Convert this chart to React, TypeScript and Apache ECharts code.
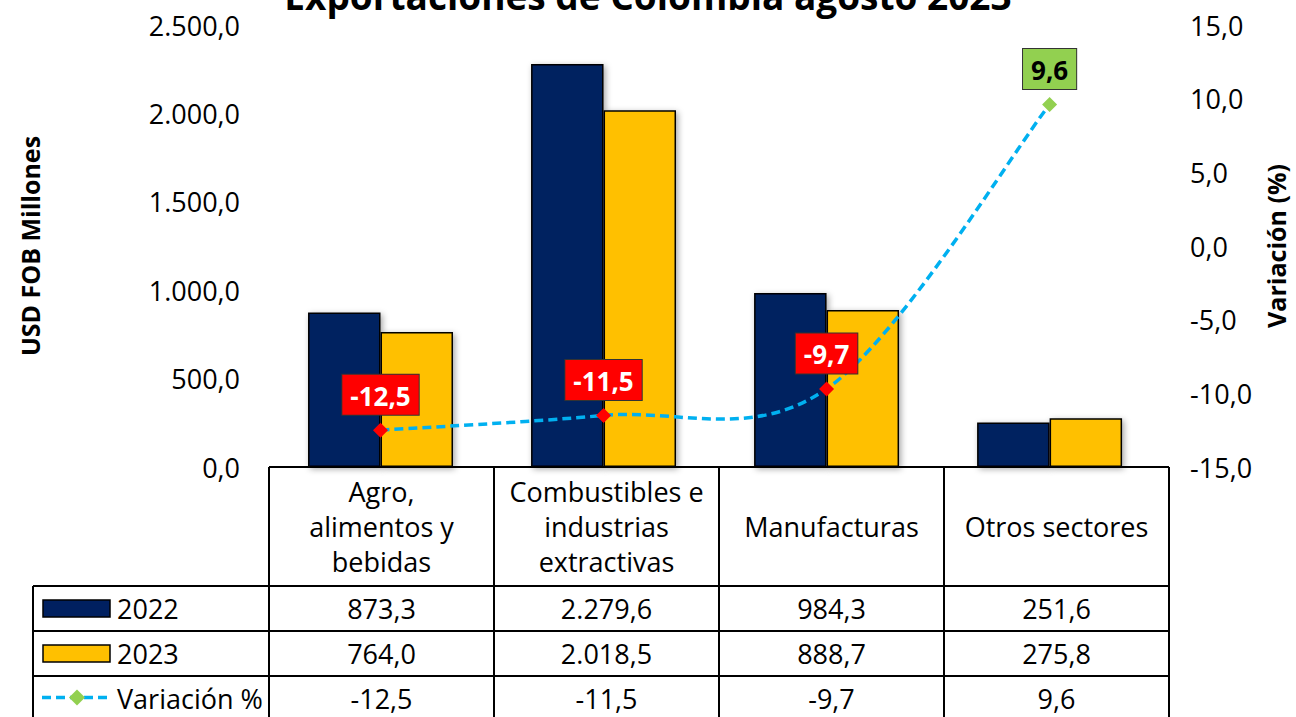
import React, { useEffect, useRef } from "react";
import * as echarts from "echarts";

const categories = [
  "Agro,\nalimentos y\nbebidas",
  "Combustibles e\nindustrias\nextractivas",
  "Manufacturas",
  "Otros sectores",
];
const values2022 = [873.3, 2279.6, 984.3, 251.6];
const values2023 = [764.0, 2018.5, 888.7, 275.8];
const variation = [-12.5, -11.5, -9.7, 9.6];
const seriesNames = ["2022", "2023", "Variación %"];
const titleText = "Exportaciones de Colombia agosto 2023";
const leftAxisName = "USD FOB Millones";
const rightAxisName = "Variación (%)";
const leftAxis = { min: 0, max: 2500, interval: 500 };
const rightAxis = { min: -15, max: 15, interval: 5 };

const NAVY = "#002060";
const YELLOW = "#FFC000";
const LINE = "#00B0F0";
const RED = "#FF0000";
const GREEN = "#92D050";
const FONT = "Open Sans";

function fmt(v: number): string {
  const neg = v < 0;
  const s = Math.abs(v).toFixed(1);
  const [ip, dp] = s.split(".");
  const withSep = ip.replace(/\B(?=(\d{3})+(?!\d))/g, ".");
  return (neg ? "-" : "") + withSep + "," + dp;
}

export default function App() {
  const ref = useRef<HTMLDivElement>(null);
  useEffect(() => {
    if (!ref.current) return;
    const chart = echarts.init(ref.current, undefined, { renderer: "svg" });

    const gridLeft = 269;
    const gridRight = 1169;
    const gridTop = 25;
    const gridBottom = 467;
    const W = 1296;
    const H = 717;
    const catW = (gridRight - gridLeft) / categories.length;
    const tableLeft = 33;
    const rowY = [gridBottom, 586, 631, 676, 721];
    const lw = 2;
    const TFS = 27;

    const g: any[] = [];
    g.push({ type: "line", shape: { x1: gridLeft, y1: rowY[0], x2: gridRight, y2: rowY[0] }, style: { stroke: "#000", lineWidth: lw } });
    for (let r = 1; r < rowY.length; r++) {
      g.push({ type: "line", shape: { x1: tableLeft, y1: rowY[r], x2: gridRight, y2: rowY[r] }, style: { stroke: "#000", lineWidth: lw } });
    }
    g.push({ type: "line", shape: { x1: tableLeft, y1: rowY[1], x2: tableLeft, y2: H }, style: { stroke: "#000", lineWidth: lw } });
    for (let c = 0; c <= categories.length; c++) {
      const x = gridLeft + c * catW;
      g.push({ type: "line", shape: { x1: x, y1: rowY[0], x2: x, y2: H }, style: { stroke: "#000", lineWidth: lw } });
    }
    categories.forEach((cat, i) => {
      g.push({
        type: "text",
        x: gridLeft + (i + 0.5) * catW,
        y: (rowY[0] + rowY[1]) / 2,
        style: { text: cat, fontSize: TFS, fontFamily: FONT, fill: "#000", align: "center", verticalAlign: "middle", lineHeight: 35 },
      });
    });
    const rows = [values2022, values2023, variation];
    rows.forEach((arr, r) => {
      const yc = (rowY[r + 1] + rowY[r + 2]) / 2;
      arr.forEach((v, i) => {
        g.push({
          type: "text",
          x: gridLeft + (i + 0.5) * catW,
          y: yc,
          style: { text: fmt(v), fontSize: TFS, fontFamily: FONT, fill: "#000", align: "center", verticalAlign: "middle" },
        });
      });
      g.push({
        type: "text",
        x: 117,
        y: yc,
        style: { text: seriesNames[r], fontSize: TFS, fontFamily: FONT, fill: "#000", align: "left", verticalAlign: "middle" },
      });
    });
    const ly0 = (rowY[1] + rowY[2]) / 2;
    const ly1 = (rowY[2] + rowY[3]) / 2;
    const ly2 = (rowY[3] + rowY[4]) / 2 - 1;
    g.push({ type: "rect", shape: { x: 43, y: ly0 - 8.5, width: 67, height: 17 }, style: { fill: NAVY, stroke: "#000", lineWidth: 1.5 } });
    g.push({ type: "rect", shape: { x: 43, y: ly1 - 8.5, width: 67, height: 17 }, style: { fill: YELLOW, stroke: "#000", lineWidth: 1.5 } });
    g.push({ type: "line", shape: { x1: 42, y1: ly2, x2: 112, y2: ly2 }, style: { stroke: LINE, lineWidth: 3.5, lineDash: [9, 5] } });
    g.push({ type: "polygon", shape: { points: [[77, ly2 - 8], [85, ly2], [77, ly2 + 8], [69, ly2]] }, style: { fill: GREEN } });

    const barStyle = (color: string) => ({
      color,
      borderColor: "#000",
      borderWidth: 1.5,
      shadowColor: "rgba(0,0,0,0.35)",
      shadowBlur: 6,
      shadowOffsetX: 2,
      shadowOffsetY: 2,
    });

    const axisLabelStyle = { fontSize: 27, fontFamily: FONT, color: "#000", margin: 29, formatter: (v: number) => fmt(v) };
    const axisNameStyle = { fontSize: 25, fontWeight: "bold", fontFamily: FONT, color: "#000", verticalAlign: "middle" };

    chart.setOption({
      animation: false,
      title: {
        text: titleText,
        left: "center",
        top: -28,
        textStyle: { fontSize: 37, fontWeight: "bold", fontFamily: FONT, color: "#000" },
      },
      grid: { left: gridLeft, right: W - gridRight, top: gridTop, bottom: H - gridBottom, containLabel: false },
      xAxis: {
        type: "category",
        data: categories,
        axisLine: { show: false },
        axisTick: { show: false },
        axisLabel: { show: false },
      },
      yAxis: [
        {
          type: "value",
          min: leftAxis.min,
          max: leftAxis.max,
          interval: leftAxis.interval,
          name: leftAxisName,
          nameLocation: "middle",
          nameGap: 239,
          nameRotate: 90,
          nameTextStyle: axisNameStyle,
          splitLine: { show: false },
          axisLine: { show: false },
          axisTick: { show: false },
          axisLabel: axisLabelStyle,
        },
        {
          type: "value",
          min: rightAxis.min,
          max: rightAxis.max,
          interval: rightAxis.interval,
          position: "right",
          name: rightAxisName,
          nameLocation: "middle",
          nameGap: 114,
          nameRotate: 90,
          nameTextStyle: axisNameStyle,
          splitLine: { show: false },
          axisLine: { show: false },
          axisTick: { show: false },
          axisLabel: axisLabelStyle,
        },
      ],
      series: [
        {
          name: seriesNames[0],
          type: "bar",
          data: values2022,
          barGap: "0%",
          barCategoryGap: "35%",
          itemStyle: barStyle(NAVY),
        },
        {
          name: seriesNames[1],
          type: "bar",
          data: values2023,
          barGap: "0%",
          barCategoryGap: "35%",
          itemStyle: barStyle(YELLOW),
        },
        {
          name: seriesNames[2] + " curve",
          type: "custom",
          yAxisIndex: 1,
          z: 4,
          clip: false,
          data: variation.map((v, i) => [i, v]),
          renderItem: (params: any, api: any) => {
            if (params.dataIndex !== 0) return { type: "group", children: [] };
            const pts = variation.map((v, j) => api.coord([j, v]));
            const n = pts.length;
            let d = `M ${pts[0][0]} ${pts[0][1]}`;
            for (let i = 0; i < n - 1; i++) {
              const p0 = pts[Math.max(0, i - 1)];
              const p1 = pts[i];
              const p2 = pts[i + 1];
              const p3 = pts[Math.min(n - 1, i + 2)];
              const c1x = p1[0] + (p2[0] - p0[0]) / 6;
              const c1y = p1[1] + (p2[1] - p0[1]) / 6;
              const c2x = p2[0] - (p3[0] - p1[0]) / 6;
              const c2y = p2[1] - (p3[1] - p1[1]) / 6;
              d += ` C ${c1x} ${c1y} ${c2x} ${c2y} ${p2[0]} ${p2[1]}`;
            }
            return {
              type: "path",
              shape: { pathData: d },
              style: { fill: "none", stroke: LINE, lineWidth: 3.5, lineDash: [9, 5] },
            };
          },
        },
        {
          name: seriesNames[2],
          type: "line",
          yAxisIndex: 1,
          symbol: "diamond",
          symbolSize: 15,
          z: 5,
          lineStyle: { width: 0, opacity: 0 },
          data: variation.map((v) => ({
            value: v,
            itemStyle: { color: v < 0 ? RED : GREEN },
            label: {
              show: true,
              position: "top",
              distance: 8,
              formatter: () => fmt(v),
              fontSize: 26,
              fontWeight: "bold",
              fontFamily: FONT,
              color: v < 0 ? "#fff" : "#000",
              backgroundColor: v < 0 ? RED : GREEN,
              borderColor: "#333",
              borderWidth: 1,
              padding: [8, 8, 6, 8],
            },
          })),
        },
      ],
      graphic: g,
    });

    return () => chart.dispose();
  }, []);

  return <div ref={ref} style={{ position: "fixed", left: 0, top: 0, width: 1296, height: 717, background: "#fff" }} />;
}
